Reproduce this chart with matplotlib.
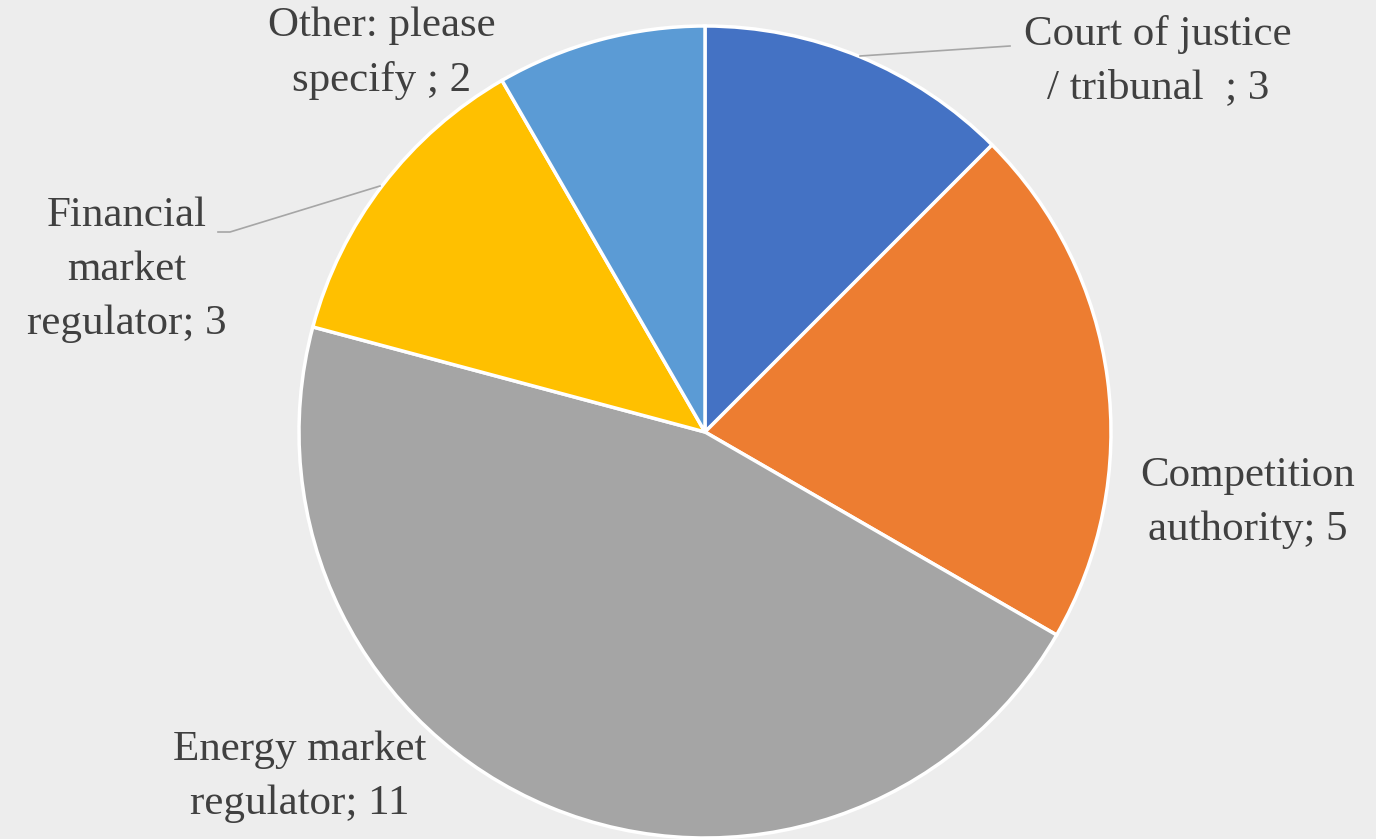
import matplotlib.pyplot as plt

# slice data, clockwise from 12 o'clock
categories = ["Court of justice\n/ tribunal  ; 3", "Competition\nauthority; 5",
              "Energy market\nregulator; 11", "Financial\nmarket\nregulator; 3",
              "Other: please\nspecify ; 2"]
values = [3, 5, 11, 3, 2]
colors = ["#4472C4", "#ED7D31", "#A5A5A5", "#FFC000", "#5B9BD5"]

# label placement in pixel units (figure is 1376x839)
label_pos = [(1158, 778), (1248, 336), (300, 62), (127, 569), (382, 786)]

bg = "#EDEDED"
fig = plt.figure(figsize=(13.76, 8.39), dpi=100, facecolor=bg)
ax = fig.add_axes([0, 0, 1, 1])
ax.set_facecolor(bg)

cx, cy, r = 705, 407, 406
ax.pie(values, colors=colors, startangle=90, counterclock=False,
       center=(cx, cy), radius=r, frame=True,
       wedgeprops=dict(edgecolor="white", linewidth=2.5))
ax.set_xlim(0, 1376)
ax.set_ylim(0, 839)
ax.set_aspect("equal")
ax.axis("off")

for lab, (x, y) in zip(categories, label_pos):
    ax.text(x, y, lab, ha="center", va="center", fontsize=31,
            family="Liberation Serif", color="#404040", linespacing=1.52)

# leader lines
ax.plot([860, 1010], [783, 793], color="#A6A6A6", lw=1.2)
ax.plot([380, 230, 218], [653, 607, 607], color="#A6A6A6", lw=1.2)

fig.savefig("out.png", dpi=100, facecolor=bg)
